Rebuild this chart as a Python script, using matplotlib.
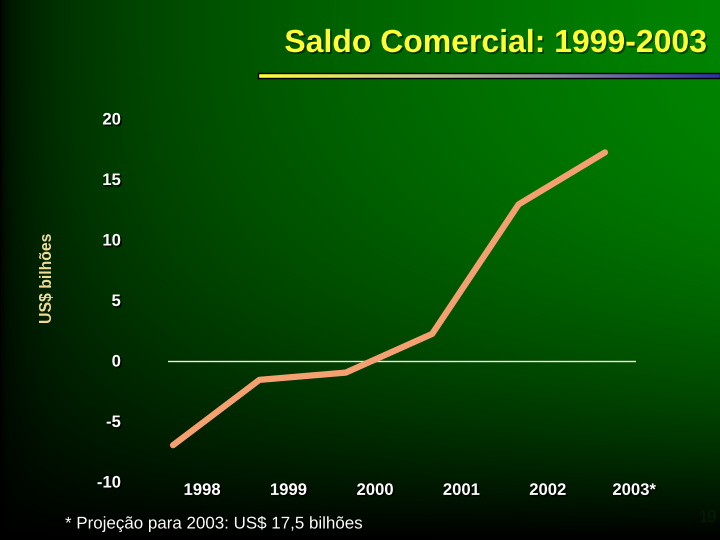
import numpy as np
import matplotlib
matplotlib.use("Agg")
import matplotlib.pyplot as plt
import matplotlib.patheffects as pe
from matplotlib.colors import LinearSegmentedColormap

plt.rcParams['font.family'] = ['Liberation Sans', 'DejaVu Sans']

# dados (US$ bilhoes)
anos = ['1998', '1999', '2000', '2001', '2002', '2003*']
saldo = [-7.0, -1.6, -1.0, 2.2, 12.9, 17.2]
yticks = [-10, -5, 0, 5, 10, 15, 20]

fig = plt.figure(figsize=(7.2, 5.4), dpi=100)

# fundo em degrade verde
bg = fig.add_axes([0, 0, 1, 1], zorder=-10)
W, H = 720, 540
xx = np.linspace(0, 1, W)[None, :]
yy = np.linspace(0, 1, H)[:, None]
fx = xx ** 0.4
fy = 1 - yy ** 2.5
g = 0.52 * fx * fy
img = np.zeros((H, W, 3))
img[..., 1] = g
bg.imshow(img, aspect='auto', extent=[0, 1, 0, 1], origin='upper')
bg.axis('off')

shadow = [pe.withSimplePatchShadow(offset=(1.2, -1.2), shadow_rgbFace='black', alpha=0.8)]

ax = fig.add_axes([168/720, 1-481.5/540, 468/720, 363/540])
ax.set_facecolor('none')
x = np.arange(len(anos))
ax.plot(x, saldo, color='#F4A070', lw=4.5, solid_capstyle='round', solid_joinstyle='round', zorder=3)
ax.axhline(0, color='#F0F0D8', lw=1, zorder=2)
ax.set_xlim(-0.058, 5.359)
ax.set_ylim(-10, 20)
for s in ax.spines.values():
    s.set_visible(False)
ax.set_yticks(yticks)
ax.set_yticklabels([str(v) for v in yticks])
ax.set_xticks(x + 0.336)
ax.set_xticklabels(anos)
ax.tick_params(axis='y', length=0, pad=34, labelsize=12, labelcolor='white')
ax.tick_params(axis='x', length=0, pad=1, labelsize=12, labelcolor='white')
for t in ax.get_xticklabels() + ax.get_yticklabels():
    t.set_path_effects(shadow)
    t.set_fontweight('bold')

fig.text(47/720, 1-278/540, 'US$ bilhões', rotation=90, ha='center', va='center',
         color='#F2DE98', fontsize=11.3, weight='bold')

fig.text(707/720, 1-44/540, 'Saldo Comercial: 1999-2003', ha='right', va='center',
         color='#FFFF33', fontsize=23, weight='bold',
         path_effects=[pe.withSimplePatchShadow(offset=(1.2, -1.2), shadow_rgbFace='black', alpha=0.5)])

# linha em degrade sob o titulo
bar = fig.add_axes([258/720, 1-78/540, 462/720, 5/540])
cmap = LinearSegmentedColormap.from_list('tit', ['#FFFF30', '#C8C890', '#8888A0', '#3030A8'])
bar.imshow(np.linspace(0, 1, 256)[None, :], cmap=cmap, aspect='auto')
bar.set_xticks([])
bar.set_yticks([])
for s in bar.spines.values():
    s.set_color('black')
    s.set_linewidth(1)

fig.text(65/720, 1-524/540, '* Projeção para 2003: US$ 17,5 bilhões', ha='left', va='center',
         color='white', fontsize=12.2, path_effects=shadow)
fig.text(708/720, 1-517/540, '19', ha='center', va='center', color='#031f03', fontsize=12)

fig.savefig('out.png', dpi=100)
